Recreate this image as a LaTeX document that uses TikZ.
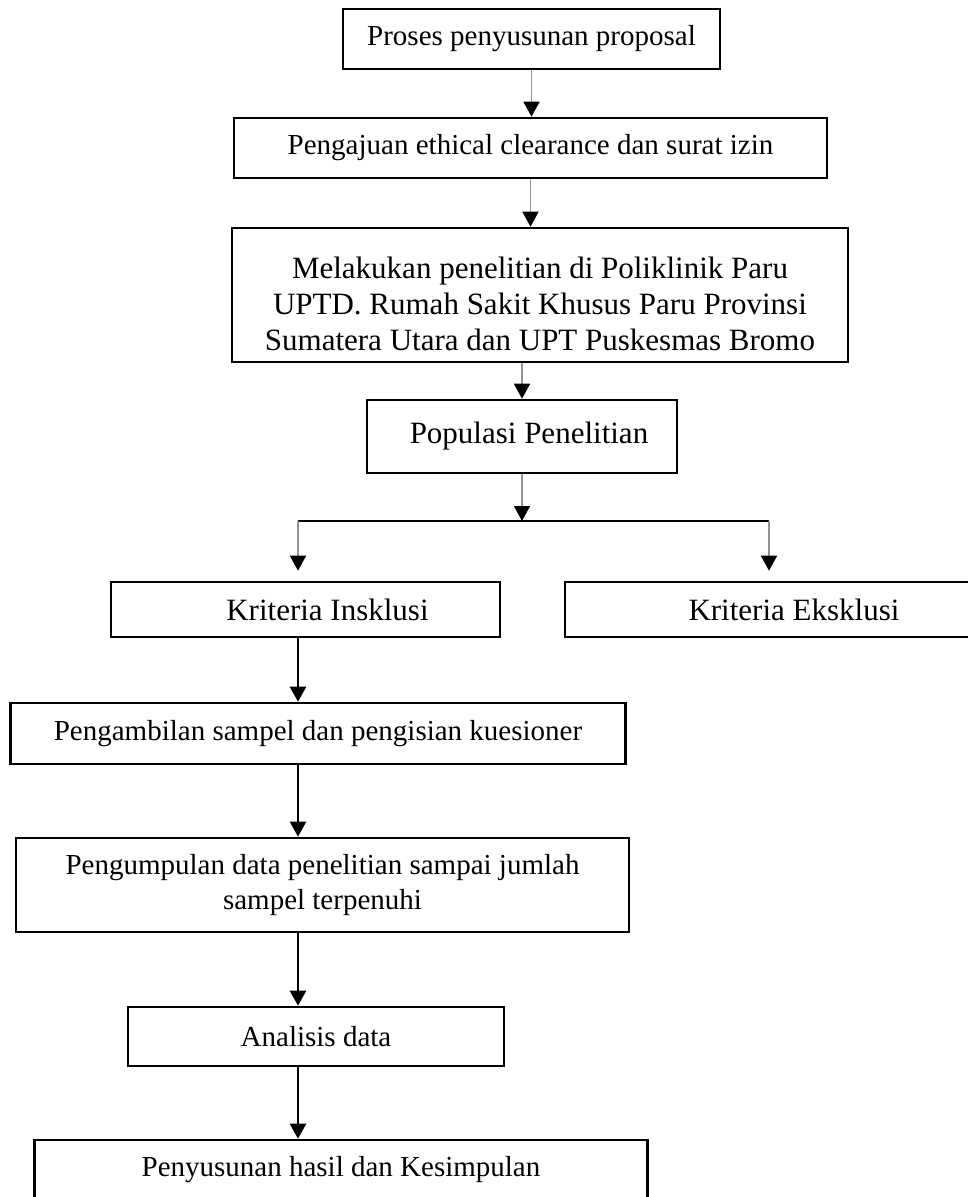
\documentclass[tikz,border=0pt]{standalone}
\usepackage{fontspec}
\setmainfont{Liberation Serif}
\usetikzlibrary{arrows.meta}

\tikzset{
  kotak/.style={draw, line width=2.6pt, inner sep=0pt, align=center,
    font=\fontsize{29}{35}\selectfont},
  besar/.style={font=\fontsize{31}{36}\selectfont},
  panahabu/.style={draw=gray!85, line width=1.6pt,
    -{Triangle[length=15pt,width=16pt,black]}},
  panahhitam/.style={draw=black, line width=2.4pt,
    -{Triangle[length=15pt,width=16pt,black]}},
  garis/.style={draw=black, line width=2.6pt}
}

\begin{document}
\begin{tikzpicture}[x=1pt,y=-1pt]
  \useasboundingbox (0,0) rectangle (967,1197);

  % alur atas
  \node[kotak, minimum width=377pt, minimum height=60pt] (proposal) at (531.5,39) {Proses penyusunan proposal};
  \node[kotak, minimum width=593pt, minimum height=60pt] (izin) at (530.5,148) {Pengajuan ethical clearance dan surat izin};
  \node[kotak, besar, minimum width=616pt, minimum height=134pt] (lapangan) at (540,295)
    {\rule{0pt}{40pt}Melakukan penelitian di Poliklinik Paru\\UPTD. Rumah Sakit Khusus Paru Provinsi\\Sumatera Utara dan UPT Puskesmas Bromo};
  \node[kotak, besar, minimum width=310pt, minimum height=73pt] (populasi) at (522,436.5) {\hspace*{14pt}Populasi Penelitian};

  \draw[panahabu] (proposal.south) -- (proposal.south |- izin.north);
  \draw[panahabu] (izin.south) -- (izin.south |- lapangan.north);
  \draw[panahabu] (populasi.north |- lapangan.south) -- (populasi.north);

  % percabangan kriteria
  \coordinate (kiri) at (298,521);
  \coordinate (kanan) at (769,521);
  \node[kotak, besar, minimum width=389pt, minimum height=55pt] (inkl) at (305.5,609.5) {\hspace*{44pt}Kriteria Insklusi};
  \node[kotak, besar, minimum width=410pt, minimum height=55pt] (eks) at (770,609.5) {\hspace*{48pt}Kriteria Eksklusi};

  \draw[panahabu] (populasi.south) -- (populasi.south |- kiri);
  \draw[garis] (kiri) -- (kanan);
  \draw[panahabu, shorten >=10pt] (kiri) -- (kiri |- inkl.north);
  \draw[panahabu, shorten >=10pt] (kanan) -- (kanan |- eks.north);

  % alur bawah
  \node[kotak, minimum width=615pt, minimum height=61pt] (ambil) at (318,733.5) {Pengambilan sampel dan pengisian kuesioner};
  \node[kotak, minimum width=613pt, minimum height=94pt] (kumpul) at (322.5,885) {Pengumpulan data penelitian sampai jumlah\\sampel terpenuhi};
  \node[kotak, minimum width=376pt, minimum height=59pt] (analisis) at (316,1036.5) {Analisis data};
  \node[kotak, minimum width=613pt, minimum height=60pt] (hasil) at (341,1170) {Penyusunan hasil dan Kesimpulan};

  \draw[panahhitam] (inkl.south -| kiri) -- (ambil.north -| kiri);
  \draw[panahhitam] (ambil.south -| kiri) -- (kumpul.north -| kiri);
  \draw[panahhitam] (kumpul.south -| kiri) -- (analisis.north -| kiri);
  \draw[panahhitam] (analisis.south -| kiri) -- (hasil.north -| kiri);
\end{tikzpicture}
\end{document}
